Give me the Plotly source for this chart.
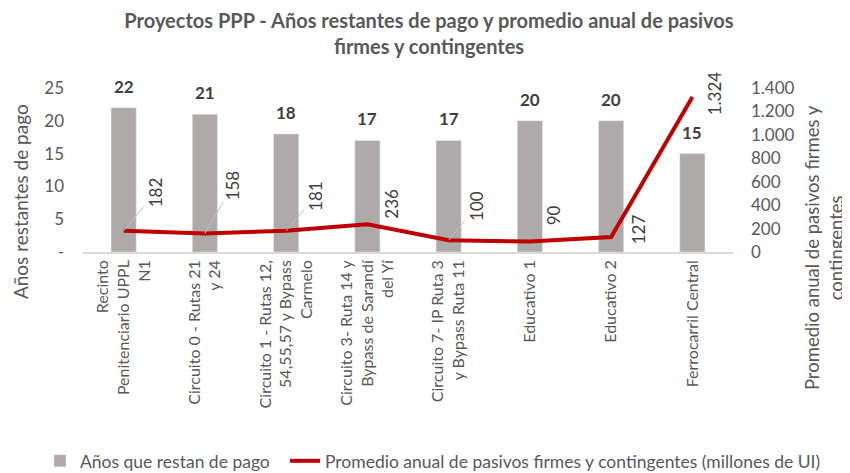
import plotly.graph_objects as go

# Datos
proyectos = [
    "Recinto<br>Penitenciario UPPL<br>N1",
    "Circuito 0 - Rutas 21<br>y 24",
    "Circuito 1 - Rutas 12,<br>54,55,57 y Bypass<br>Carmelo",
    "Circuito 3- Ruta 14 y<br>Bypass de Sarandí<br>del Yí",
    "Circuito 7- IP Ruta 3<br>y Bypass Ruta 11",
    "Educativo 1",
    "Educativo 2",
    "Ferrocarril Central",
]
anios_restantes = [22, 21, 18, 17, 17, 20, 20, 15]
promedio_pasivos = [182, 158, 181, 236, 100, 90, 127, 1324]
etiquetas_pasivos = ["182", "158", "181", "236", "100", "90", "127", "1.324"]

# desplazamientos de las etiquetas de la linea (px) y si llevan linea guia
offsets = [(32, -38), (28, -48), (30, -35), (24, -21), (28, -34), (24, -26), (27, -8), (23, -4)]
guia = [True, True, True, False, True, False, False, False]

GRIS = "#595959"
FUENTE = "Lato, Liberation Sans, Arial"

fig = go.Figure()
fig.add_trace(go.Bar(
    x=proyectos, y=anios_restantes, name="Años que restan de pago",
    marker_color="#AEAAAA", width=0.31, legend="legend", showlegend=True,
))
fig.add_trace(go.Scatter(
    x=proyectos, y=promedio_pasivos, yaxis="y2", mode="lines",
    name="Promedio anual de pasivos firmes y contingentes (millones de UI)",
    line=dict(color="#C00000", width=4), legend="legend2", showlegend=True,
))

# etiquetas de las barras
for p, a in zip(proyectos, anios_restantes):
    fig.add_annotation(
        x=p, y=a, text=f"<b>{a}</b>", showarrow=False, yanchor="bottom", yshift=9,
        font=dict(size=17, color="#404040", family=FUENTE),
    )

# etiquetas de la linea
for p, v, t, (dx, dy), g in zip(proyectos, promedio_pasivos, etiquetas_pasivos, offsets, guia):
    fig.add_annotation(
        x=p, y=v, yref="y2", text=t, textangle=-90,
        showarrow=g, arrowhead=0, arrowwidth=1, arrowcolor="#BFBFBF",
        ax=dx, ay=dy, xshift=0 if g else dx, yshift=0 if g else -dy,
        font=dict(size=17, color="#404040", family=FUENTE),
    )

# titulos de los ejes
fig.add_annotation(
    xref="paper", yref="paper", x=-0.097, y=0.31, xanchor="center", yanchor="middle",
    text="Años restantes de pago", textangle=-90, showarrow=False,
    font=dict(size=19, color=GRIS, family=FUENTE),
)
fig.add_annotation(
    xref="paper", yref="paper", x=1.14, y=0.03, xanchor="center", yanchor="middle",
    text="Promedio anual de pasivos firmes y<br>contingentes",
    textangle=-90, showarrow=False, font=dict(size=18.5, color=GRIS, family=FUENTE),
)

fig.update_layout(
    width=842, height=465,
    margin=dict(l=75, r=117, t=80, b=221, autoexpand=False),
    plot_bgcolor="white", paper_bgcolor="white",
    separators=",.",
    showlegend=True,
    font=dict(family=FUENTE, color=GRIS, size=16),
    title=dict(
        text="<b>Proyectos PPP - Años restantes de pago y promedio anual de pasivos<br>firmes y contingentes</b>",
        x=0.5, xanchor="center", y=0.958, yanchor="top",
        font=dict(size=20, color=GRIS, family=FUENTE),
    ),
    xaxis=dict(
        tickangle=-90, showline=True, linecolor="#D9D9D9", linewidth=1.5,
        ticks="", tickfont=dict(size=16, color=GRIS), automargin=False,
    ),
    yaxis=dict(
        range=[0, 25], tickvals=[0, 5, 10, 15, 20, 25],
        ticktext=["-", "5", "10", "15", "20", "25"], automargin=False,
        showgrid=False, zeroline=False, tickfont=dict(size=17, color=GRIS),
        ticklabelstandoff=18,
    ),
    yaxis2=dict(
        range=[0, 1400], overlaying="y", side="right", dtick=200, automargin=False,
        showgrid=False, zeroline=False, tickformat=",d",
        tickfont=dict(size=17, color=GRIS), ticklabelstandoff=17,
    ),
    legend=dict(
        orientation="h", xref="container", yref="container",
        x=0.038, xanchor="left", y=0.026, yanchor="middle",
        font=dict(size=17.5, color=GRIS),
    ),
    legend2=dict(
        orientation="h", xref="container", yref="container",
        x=0.329, xanchor="left", y=0.026, yanchor="middle",
        font=dict(size=17.5, color=GRIS),
    ),
)

fig.write_html("out.html")
